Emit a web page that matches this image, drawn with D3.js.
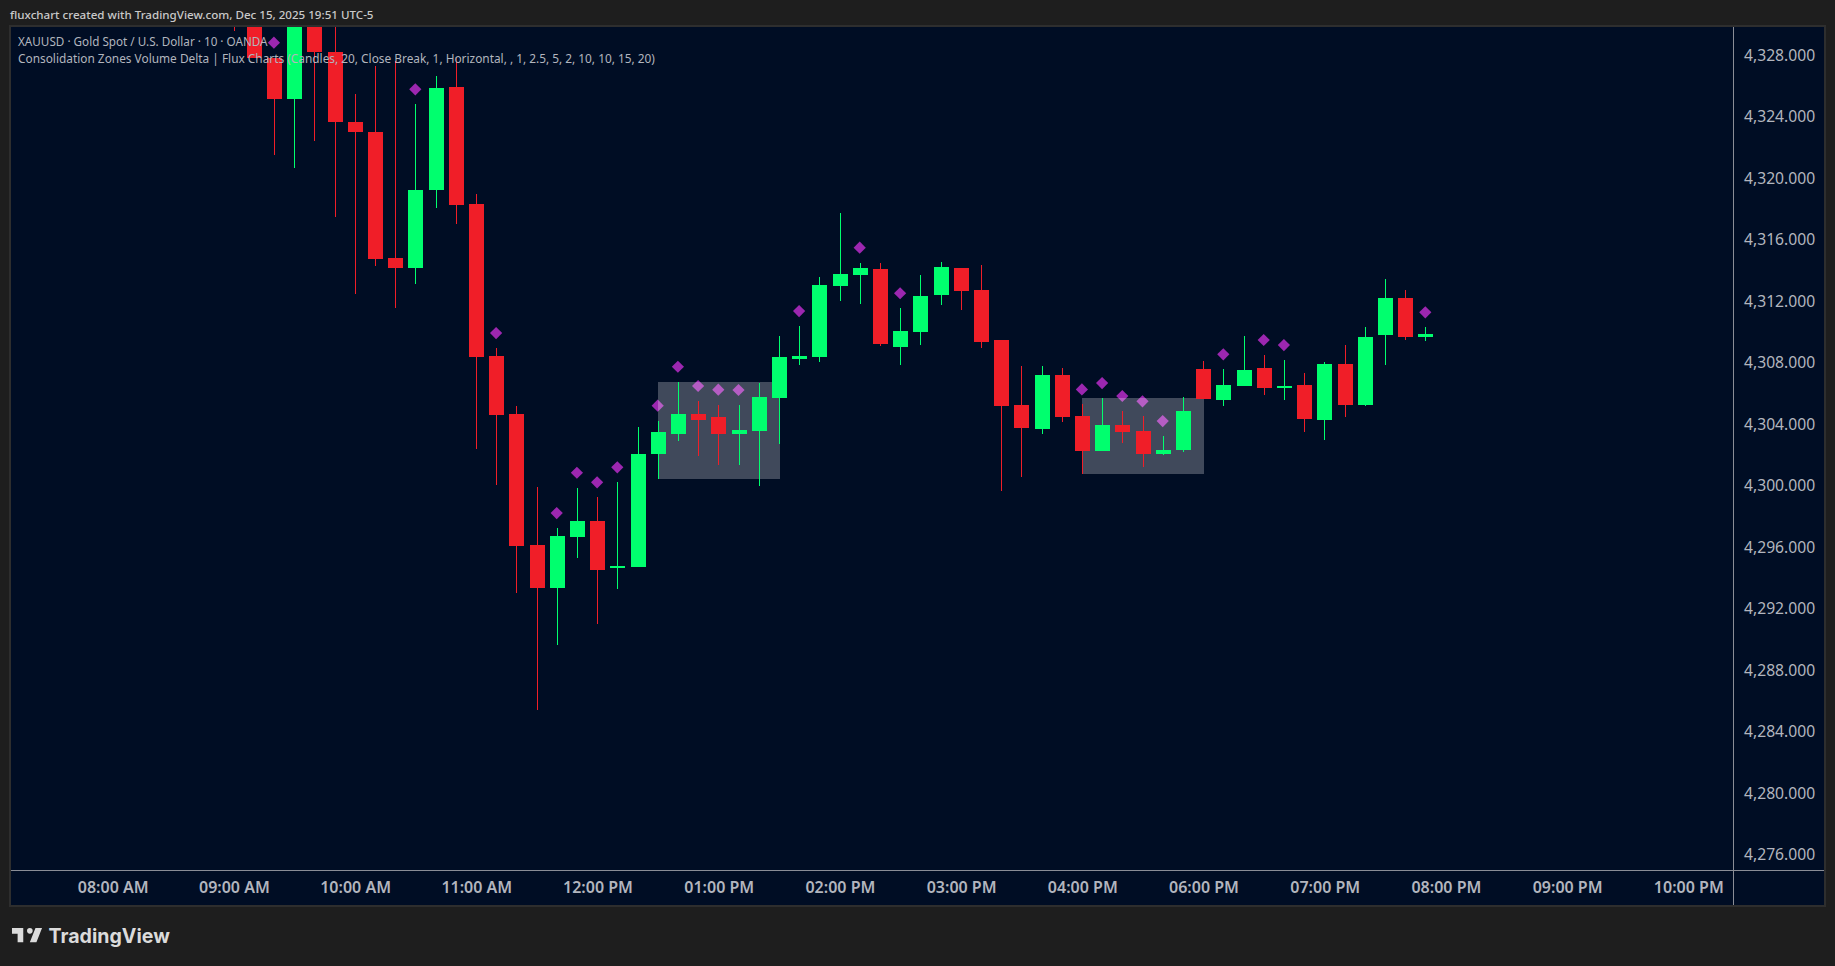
<!DOCTYPE html>
<html>
<head>
<meta charset="utf-8">
<script src="https://d3js.org/d3.v7.min.js"></script>
<style>
  body { margin: 0; background: #1e1e1e; overflow: hidden; }
  text { font-family: "Noto Sans", sans-serif; }
</style>
</head>
<body>
<svg id="vis"></svg>
<script>
  // Candles, 10 minute bars. Bar 0 sits on the 08:00 AM label, the first bars are above the chart
  var firstBar = 6
  var opens = [4333.5, 4333.0, 4327.79, 4325.14, 4331.5, 4328.20, 4323.64, 4322.99, 4314.80, 4314.17,
    4319.24, 4325.92, 4318.31, 4308.43, 4304.66, 4296.14, 4293.34, 4296.66, 4297.70, 4294.64,
    4294.71, 4302.06, 4303.36, 4304.66, 4304.46, 4303.36, 4303.55, 4305.70, 4308.23, 4308.36,
    4312.98, 4313.70, 4314.09, 4309.01, 4309.99, 4312.40, 4314.15, 4312.72, 4309.47, 4305.24,
    4303.68, 4307.19, 4304.53, 4302.25, 4303.94, 4303.55, 4302.06, 4302.32, 4307.58, 4305.57,
    4306.48, 4307.65, 4306.35, 4306.54, 4304.27, 4307.91, 4305.24, 4309.79, 4312.20, 4309.66]
  var highs = [4335.0, 4334.0, 4327.79, 4331.5, 4332.0, 4330.5, 4325.46, 4327.28, 4327.63, 4324.81,
    4326.63, 4327.80, 4318.96, 4308.95, 4305.18, 4299.91, 4297.25, 4299.85, 4299.26, 4300.24,
    4303.81, 4304.20, 4306.74, 4305.50, 4305.24, 4305.24, 4306.67, 4309.73, 4310.38, 4313.57,
    4317.73, 4314.48, 4314.48, 4311.55, 4313.70, 4314.54, 4314.15, 4314.35, 4309.47, 4307.78,
    4307.78, 4307.65, 4305.31, 4305.70, 4304.85, 4304.53, 4303.23, 4305.76, 4308.10, 4307.58,
    4309.73, 4308.49, 4308.17, 4307.32, 4308.04, 4309.14, 4310.31, 4313.44, 4312.72, 4310.31]
  var lows = [4329.56, 4327.80, 4321.52, 4320.67, 4322.43, 4317.49, 4312.48, 4314.30, 4311.57, 4313.13,
    4318.07, 4317.03, 4302.38, 4300.04, 4293.02, 4285.41, 4289.64, 4295.30, 4291.00, 4293.28,
    4294.71, 4300.43, 4302.90, 4301.93, 4301.34, 4301.34, 4299.98, 4302.71, 4307.84, 4308.04,
    4312.01, 4311.81, 4309.08, 4307.84, 4309.14, 4311.74, 4311.42, 4308.95, 4299.65, 4300.56,
    4303.36, 4304.14, 4300.76, 4302.25, 4302.77, 4301.21, 4301.99, 4302.19, 4305.63, 4305.18,
    4306.48, 4305.89, 4305.57, 4303.49, 4302.97, 4304.46, 4305.18, 4307.84, 4309.47, 4309.40]
  var closes = [4330.5, 4327.80, 4325.14, 4331.0, 4328.21, 4323.66, 4323.01, 4314.76, 4314.17, 4319.22,
    4325.85, 4318.27, 4308.38, 4304.59, 4296.08, 4293.34, 4296.73, 4297.70, 4294.51, 4294.77,
    4302.06, 4303.49, 4304.66, 4304.27, 4303.36, 4303.62, 4305.76, 4308.36, 4308.43, 4313.05,
    4313.76, 4314.15, 4309.21, 4310.05, 4312.33, 4314.22, 4312.66, 4309.34, 4305.18, 4303.75,
    4307.19, 4304.46, 4302.25, 4303.94, 4303.49, 4302.06, 4302.32, 4304.85, 4305.63, 4306.54,
    4307.52, 4306.35, 4306.48, 4304.33, 4307.91, 4305.24, 4309.66, 4312.20, 4309.66, 4309.86]

  // Purple diamonds from the indicator
  var diamondBars = [8, 15, 19, 22, 23, 24, 25, 27, 28, 29, 30, 31, 34, 37, 39, 48, 49, 50, 51, 52, 55, 57, 58, 65]
  var diamondPrices = [4328.80, 4325.77, 4309.92, 4298.22, 4300.84, 4300.22, 4301.19, 4305.20, 4307.73, 4306.48,
    4306.24, 4306.22, 4311.35, 4315.47, 4312.51, 4306.26, 4306.67, 4305.83, 4305.48, 4304.20,
    4308.54, 4309.47, 4309.14, 4311.27]

  // Consolidation zones
  var zoneStart = [27, 48]
  var zoneEnd = [33, 54]
  var zoneTop = [4306.74, 4305.70]
  var zoneBottom = [4300.43, 4300.76]

  // Axis labels
  var priceTicks = [4276, 4280, 4284, 4288, 4292, 4296, 4300, 4304, 4308, 4312, 4316, 4320, 4324, 4328]
  var timeTicks = [0, 6, 12, 18, 24, 30, 36, 42, 48, 54, 60, 66, 72, 78]
  var timeLabels = ['08:00 AM', '09:00 AM', '10:00 AM', '11:00 AM', '12:00 PM', '01:00 PM', '02:00 PM', '03:00 PM',
    '04:00 PM', '06:00 PM', '07:00 PM', '08:00 PM', '09:00 PM', '10:00 PM']

  var upColor = '#00ff6e'
  var downColor = '#f01e28'
  // plot area edges
  var plotLeft = 11, plotRight = 1733, plotTop = 27, plotBottom = 870
  var panelRight = 1824, panelBottom = 905

  var svg = d3.select('#vis')
  .attr('width', 1835)
  .attr('height', 966)
  .style('display', 'block')

  var xscale = d3.scaleLinear()
  .domain([0, 78])
  .range([112.3, 1687.9])

  var yscale = d3.scaleLinear()
  .domain([4328, 4276])
  .range([55, 854.8])

  // Panel behind the chart
  svg.append('rect')
  .attr('x', plotLeft - 1)
  .attr('y', plotTop - 1)
  .attr('width', panelRight - plotLeft + 2)
  .attr('height', panelBottom - plotTop + 2)
  .attr('fill', '#000d24')
  .attr('stroke', '#2e2e2e')
  .attr('stroke-width', 2)

  svg.append('clipPath').attr('id', 'plot')
  .append('rect')
  .attr('x', plotLeft)
  .attr('y', plotTop)
  .attr('width', plotRight - plotLeft)
  .attr('height', plotBottom - plotTop)

  var plot = svg.append('g').attr('clip-path', 'url(#plot)')

  // Diamonds go under the zones, so they look washed out inside them
  var diamond = d3.symbol().type(d3.symbolDiamond2).size(95)

  plot.selectAll('.diamond')
  .data(diamondBars)
  .enter().append('path')
  .attr('class', 'diamond')
  .attr('d', diamond)
  .attr('transform', function(d, i) { return 'translate(' + xscale(d) + ',' + yscale(diamondPrices[i]) + ')' })
  .attr('fill', '#9c27b0')

  plot.selectAll('.zone')
  .data(zoneStart)
  .enter().append('rect')
  .attr('class', 'zone')
  .attr('x', function(d) { return Math.round(xscale(d)) })
  .attr('y', function(d, i) { return yscale(zoneTop[i]) })
  .attr('width', function(d, i) { return Math.round(xscale(zoneEnd[i])) - Math.round(xscale(d)) + 1 })
  .attr('height', function(d, i) { return yscale(zoneBottom[i]) - yscale(zoneTop[i]) })
  .attr('fill', '#fff')
  .attr('fill-opacity', 0.25)
  .attr('shape-rendering', 'crispEdges')

  // Candles
  var candles = opens.map(function(d, i) {
    return {bar: firstBar + i, open: d, high: highs[i], low: lows[i], close: closes[i]}
  })
  function candleColor(d) { return d.close >= d.open ? upColor : downColor }

  plot.selectAll('.wick')
  .data(candles)
  .enter().append('rect')
  .attr('class', 'wick')
  .attr('x', function(d) { return Math.round(xscale(d.bar)) })
  .attr('y', function(d) { return yscale(d.high) })
  .attr('width', 1)
  .attr('height', function(d) { return yscale(d.low) - yscale(d.high) })
  .attr('fill', candleColor)
  .attr('shape-rendering', 'crispEdges')

  plot.selectAll('.body')
  .data(candles)
  .enter().append('rect')
  .attr('class', 'body')
  .attr('x', function(d) { return Math.round(xscale(d.bar)) - 7 })
  .attr('y', function(d) { return yscale(Math.max(d.open, d.close)) })
  .attr('width', 15)
  .attr('height', function(d) { return Math.abs(yscale(d.open) - yscale(d.close)) })
  .attr('fill', candleColor)
  .attr('shape-rendering', 'crispEdges')

  // Axes
  var yAxis = svg.append('g')
  .attr('transform', 'translate(' + plotRight + ',0)')
  .call(d3.axisRight(yscale).tickValues(priceTicks).tickFormat(d3.format(',.3f')).tickSize(0).tickPadding(11))

  yAxis.select('.domain').remove()
  yAxis.selectAll('text')
  .attr('fill', '#b2b5be')
  .style('font-size', '15.7px')

  var xAxis = svg.append('g')
  .attr('transform', 'translate(0.4,' + plotBottom + ')')
  .call(d3.axisBottom(xscale).tickValues(timeTicks).tickFormat(function(d, i) { return timeLabels[i] }).tickSize(0).tickPadding(11.5))

  xAxis.select('.domain').remove()
  xAxis.selectAll('text')
  .attr('fill', '#b2b5be')
  .style('font-size', '16px')
  .style('font-weight', 600)

  svg.append('rect').attr('x', plotLeft).attr('y', plotBottom).attr('width', panelRight - plotLeft).attr('height', 1).attr('fill', '#8a8d96')
  svg.append('rect').attr('x', plotRight).attr('y', plotTop).attr('width', 1).attr('height', panelBottom - plotTop).attr('fill', '#8a8d96')

  // Titles
  svg.append('text')
  .attr('x', 10).attr('y', 18.5)
  .attr('fill', '#c9c9c9')
  .style('font-size', '11.6px')
  .style('font-weight', 500)
  .text('fluxchart created with TradingView.com, Dec 15, 2025 19:51 UTC-5')

  svg.append('text')
  .attr('x', 18).attr('y', 46)
  .attr('fill', '#b2b5be')
  .style('font-size', '11.7px')
  .text('XAUUSD · Gold Spot / U.S. Dollar · 10 · OANDA')

  svg.append('text')
  .attr('x', 18).attr('y', 63)
  .attr('fill', '#b2b5be')
  .style('font-size', '11.87px')
  .text('Consolidation Zones Volume Delta | Flux Charts (Candles, 20, Close Break, 1, Horizontal, , 1, 2.5, 5, 2, 10, 10, 15, 20)')

  // Logo
  svg.append('path')
  .attr('d', 'M14 6H2v6h6v9h6V6Zm14 15h-7l6-15h7l-6 15Zm-7-9a3 3 0 1 0 0-6 3 3 0 0 0 0 6Z')
  .attr('transform', 'translate(10.1,922.4) scale(0.94)')
  .attr('fill', '#dbdbdb')

  svg.append('text')
  .attr('x', 48.5).attr('y', 943)
  .attr('fill', '#dbdbdb')
  .style('font-family', 'Inter, sans-serif')
  .style('font-size', '19.6px')
  .style('font-weight', 700)
  .text('TradingView')
</script>
</body>
</html>
